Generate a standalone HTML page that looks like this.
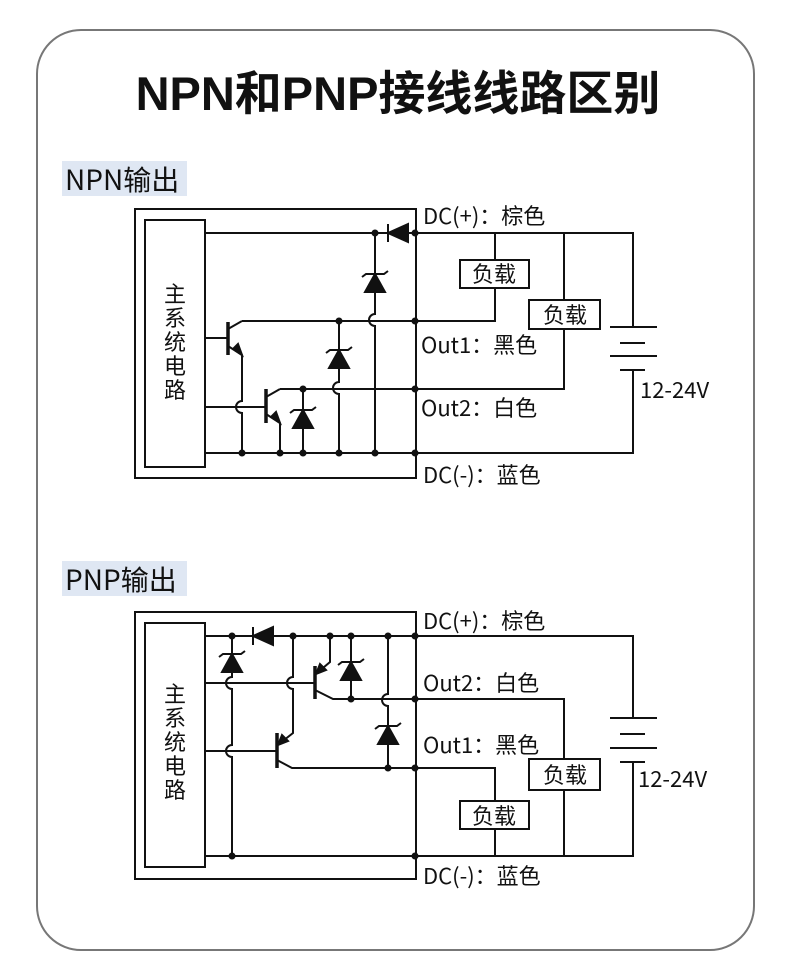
<!DOCTYPE html>
<html><head><meta charset="utf-8"><style>
html,body{margin:0;padding:0;background:#fff;}
svg{display:block;}
text{font-family:"Noto Sans CJK SC","Liberation Sans",sans-serif;fill:#111;}
</style></head><body>
<svg width="790" height="969" viewBox="0 0 790 969" xmlns="http://www.w3.org/2000/svg">
<rect x="37" y="30" width="717" height="920" rx="44" fill="#fff" stroke="#777" stroke-width="2"/>
<text x="398" y="110" text-anchor="middle" font-size="47" font-weight="bold" style="font-family:'Liberation Sans','Noto Sans CJK SC',sans-serif">NPN和PNP接线线路区别</text>
<rect x="62" y="161" width="125" height="35" fill="#dfe7f3"/>
<text x="65" y="190" font-size="28">NPN输出</text>
<rect x="62" y="561" width="125" height="35" fill="#dfe7f3"/>
<text x="65" y="590" font-size="28">PNP输出</text>

<g fill="none" stroke="#111" stroke-width="2">
<rect x="135" y="209" width="281" height="269"/>
<rect x="145" y="220" width="60" height="247"/>
<path d="M205 233 H633 V327"/>
<path d="M375 233 V314 A6 6 0 0 0 375 326 V453"/>
<path d="M242 321 H495 V288 M495 260 V233"/>
<rect x="460" y="260" width="69" height="28"/>
<path d="M205 338 H228"/>
<path d="M228 329 L242 321 M228 346 L242 355 V401 A6 6 0 0 0 242 413 V453"/>
<path d="M339 321 V382 A6 6 0 0 0 339 394 V453"/>
<path d="M280 389 H564 V329 M564 300 V233"/>
<rect x="529" y="300" width="71" height="29"/>
<path d="M205 407 H266"/>
<path d="M266 397 L280 389 M266 414 L280 423 V453"/>
<path d="M303 389 V453"/>
<path d="M205 453 H633 V370"/>
<path d="M610 327 H657 M620 343 H645 M610 356 H657 M620 370 H645"/>
<rect x="135" y="612" width="281" height="267"/>
<rect x="145" y="623" width="60" height="244"/>
<path d="M205 636 H633 V718"/>
<path d="M232 636 V677 A6 6 0 0 0 232 689 V745 A6 6 0 0 0 232 757 V856"/>
<path d="M205 683 H315"/>
<path d="M293 636 V677 A6 6 0 0 0 293 689 V733 L279 744"/>
<path d="M205 751 H277"/>
<path d="M277 760 L292 768 H495 V801 M495 829 V856"/>
<rect x="460" y="801" width="69" height="28"/>
<path d="M330 636 V662 L317 673"/>
<path d="M315 690 L333 699 H564 V759 M564 790 V856"/>
<rect x="529" y="759" width="71" height="31"/>
<path d="M351 636 V699"/>
<path d="M388 636 V694 A6 6 0 0 0 388 706 V768"/>
<path d="M205 856 H633 V762"/>
<path d="M610 718 H657 M620 734 H645 M610 748 H657 M620 762 H645"/>
</g>
<g stroke="#111" stroke-width="3.5">
<path d="M228 322 V355 M266 389 V423 M315 666 V699 M277 733 V768"/>
</g>
<g fill="#111" stroke="#111" stroke-width="2">
<polygon points="388,233 408,224 408,242"/><path d="M388 224 V242"/>
<polygon points="375,274 365,292 385,292"/><path d="M362 277 L366 274 H384 L388 271" fill="none"/>
<polygon points="339,350 329,368 349,368"/><path d="M326 353 L330 350 H348 L352 347" fill="none"/>
<polygon points="303,410 293,428 313,428"/><path d="M290 413 L294 410 H312 L316 407" fill="none"/>
<polygon points="242,355 233,349 238,344"/>
<polygon points="280,423 271,417 276,412"/>
<polygon points="253,636 273,627 273,645"/><path d="M253 627 V645"/>
<polygon points="232,654 222,672 242,672"/><path d="M219 657 L223 654 H241 L245 651" fill="none"/>
<polygon points="351,662 341,680 361,680"/><path d="M338 665 L342 662 H360 L364 659" fill="none"/>
<polygon points="388,726 378,744 398,744"/><path d="M375 729 L379 726 H397 L401 723" fill="none"/>
<polygon points="316,674 320,664 326,670"/>
<polygon points="278,745 282,735 288,741"/>
</g>
<g fill="#111">
<circle cx="375" cy="233" r="3.5"/><circle cx="415" cy="233" r="3.5"/>
<circle cx="339" cy="321" r="3.5"/><circle cx="415" cy="321" r="3.5"/>
<circle cx="303" cy="389" r="3.5"/><circle cx="415" cy="389" r="3.5"/>
<circle cx="242" cy="453" r="3.5"/><circle cx="280" cy="453" r="3.5"/><circle cx="303" cy="453" r="3.5"/><circle cx="339" cy="453" r="3.5"/><circle cx="375" cy="453" r="3.5"/><circle cx="415" cy="453" r="3.5"/>
<circle cx="232" cy="636" r="3.5"/><circle cx="293" cy="636" r="3.5"/><circle cx="330" cy="636" r="3.5"/><circle cx="351" cy="636" r="3.5"/><circle cx="388" cy="636" r="3.5"/><circle cx="415" cy="636" r="3.5"/>
<circle cx="351" cy="699" r="3.5"/><circle cx="415" cy="699" r="3.5"/>
<circle cx="388" cy="768" r="3.5"/><circle cx="415" cy="768" r="3.5"/>
<circle cx="232" cy="856" r="3.5"/><circle cx="415" cy="856" r="3.5"/>
</g>
<g font-size="22">
<text x="175" y="302" text-anchor="middle">主</text>
<text x="175" y="326" text-anchor="middle">系</text>
<text x="175" y="350" text-anchor="middle">统</text>
<text x="175" y="374" text-anchor="middle">电</text>
<text x="175" y="398" text-anchor="middle">路</text>
<text x="175" y="702" text-anchor="middle">主</text>
<text x="175" y="726" text-anchor="middle">系</text>
<text x="175" y="750" text-anchor="middle">统</text>
<text x="175" y="774" text-anchor="middle">电</text>
<text x="175" y="798" text-anchor="middle">路</text>
<text x="423" y="224">DC(+)：棕色</text>
<text x="421" y="353">Out1：黑色</text>
<text x="421" y="416">Out2：白色</text>
<text x="423" y="483">DC(-)：蓝色</text>
<text x="494" y="282" text-anchor="middle">负载</text>
<text x="565" y="323" text-anchor="middle">负载</text>
<text x="640" y="398">12-24V</text>
<text x="423" y="629">DC(+)：棕色</text>
<text x="423" y="691">Out2：白色</text>
<text x="423" y="753">Out1：黑色</text>
<text x="423" y="884">DC(-)：蓝色</text>
<text x="565" y="783" text-anchor="middle">负载</text>
<text x="494" y="824" text-anchor="middle">负载</text>
<text x="638" y="787">12-24V</text>
</g>
</svg>
</body></html>
